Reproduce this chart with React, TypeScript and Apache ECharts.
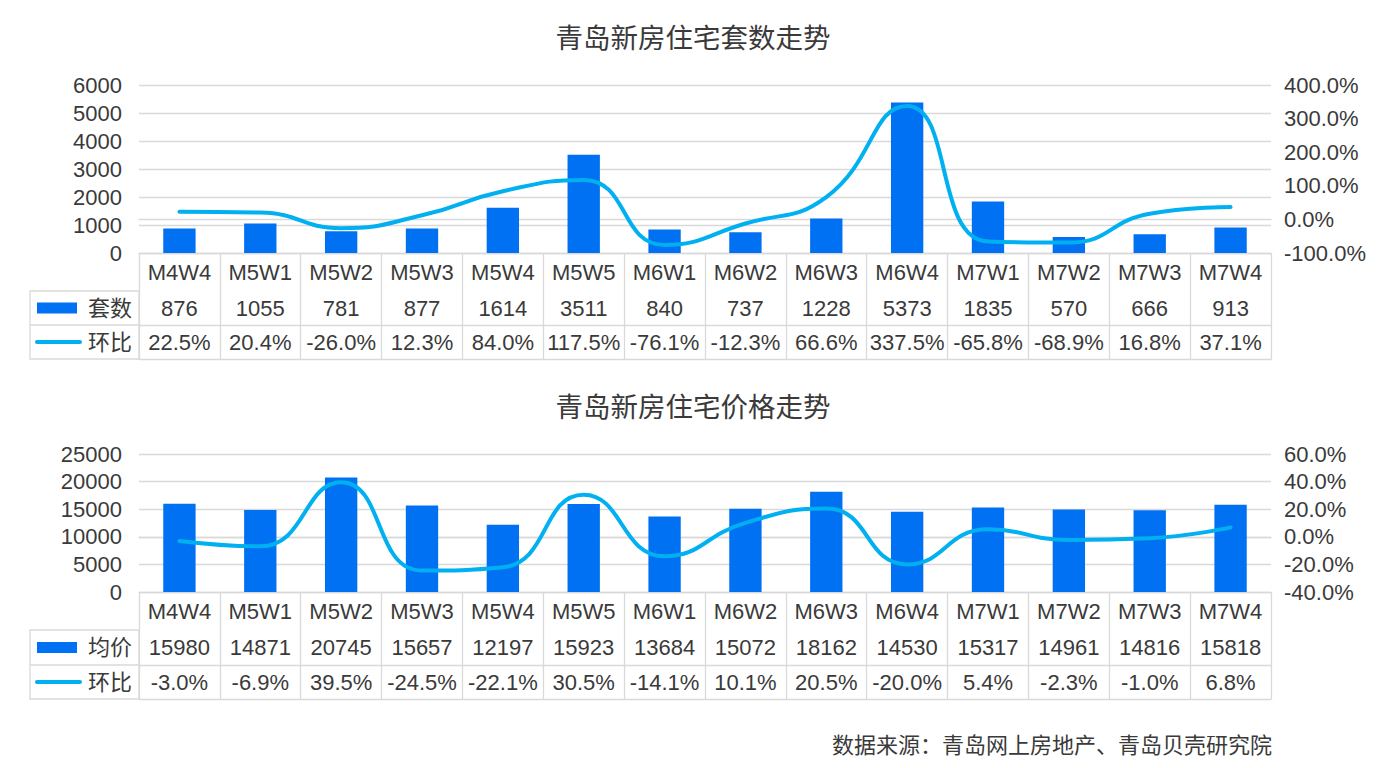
import React, { useEffect, useRef } from "react";
import * as echarts from "echarts";

const categories = ["M4W4", "M5W1", "M5W2", "M5W3", "M5W4", "M5W5", "M6W1", "M6W2", "M6W3", "M6W4", "M7W1", "M7W2", "M7W3", "M7W4"];
const counts = [876, 1055, 781, 877, 1614, 3511, 840, 737, 1228, 5373, 1835, 570, 666, 913];
const countMoM = [22.5, 20.4, -26.0, 12.3, 84.0, 117.5, -76.1, -12.3, 66.6, 337.5, -65.8, -68.9, 16.8, 37.1];
const prices = [15980, 14871, 20745, 15657, 12197, 15923, 13684, 15072, 18162, 14530, 15317, 14961, 14816, 15818];
const priceMoM = [-3.0, -6.9, 39.5, -24.5, -22.1, 30.5, -14.1, 10.1, 20.5, -20.0, 5.4, -2.3, -1.0, 6.8];

const title1 = "青岛新房住宅套数走势";
const title2 = "青岛新房住宅价格走势";
const barName1 = "套数";
const barName2 = "均价";
const lineName = "环比";
const sourceText = "数据来源：青岛网上房地产、青岛贝壳研究院";

const FONT = "'Liberation Sans', 'Noto Sans CJK SC', sans-serif";
const TEXT = "#3a3a3a";
const GRIDC = "#d9d9d9";
const BAR = "#0071F2";
const LINE = "#00B0F0";
const FS = 22;

const pct = (v: number) => v.toFixed(1) + "%";

export default function App() {
  const ref = useRef<HTMLDivElement>(null);
  useEffect(() => {
    if (!ref.current) return;
    const chart = echarts.init(ref.current, null, { renderer: "svg" });

    const gridLeft = 139;
    const gridRight = 1398 - 1271;
    const blocks = [
      { top: 85, height: 168, rows: [38, 34, 34], yMax: 6000, yInt: 1000, rMin: -100, rMax: 400, rInt: 100, vals: counts, mom: countMoM, name: barName1 },
      { top: 454, height: 138, rows: [38, 35, 34], yMax: 25000, yInt: 5000, rMin: -40, rMax: 60, rInt: 20, vals: prices, mom: priceMoM, name: barName2 },
    ];

    const grids: any[] = [];
    const xAxes: any[] = [];
    const yAxes: any[] = [];
    const series: any[] = [];
    const graphics: any[] = [];

    const labelBase = { fontSize: FS, color: TEXT, fontFamily: FONT };

    blocks.forEach((b, g) => {
      grids.push({ left: gridLeft, right: gridRight, top: b.top, height: b.height, containLabel: false });
      const tableH = b.rows[0] + b.rows[1] + b.rows[2];
      const xBase = xAxes.length;
      // category row
      xAxes.push({
        type: "category", gridIndex: g, data: categories, position: "bottom",
        axisLine: { show: true, lineStyle: { color: GRIDC, width: 1.3 } },
        axisTick: { show: true, length: tableH, lineStyle: { color: GRIDC, width: 1.3 } },
        axisLabel: { ...labelBase, interval: 0, margin: b.rows[0] / 2, verticalAlign: "middle" },
      });
      // value row
      xAxes.push({
        type: "category", gridIndex: g, data: categories, position: "bottom", offset: b.rows[0],
        axisLine: { show: true, lineStyle: { color: GRIDC, width: 1.3 } },
        axisTick: { show: false },
        axisLabel: { ...labelBase, interval: 0, margin: b.rows[1] / 2, verticalAlign: "middle", formatter: (_v: string, i: number) => String(b.vals[i]) },
      });
      // mom row
      xAxes.push({
        type: "category", gridIndex: g, data: categories, position: "bottom", offset: b.rows[0] + b.rows[1],
        axisLine: { show: true, lineStyle: { color: GRIDC, width: 1.3 } },
        axisTick: { show: false },
        axisLabel: { ...labelBase, interval: 0, margin: b.rows[2] / 2, verticalAlign: "middle", formatter: (_v: string, i: number) => pct(b.mom[i]) },
      });
      // bottom border
      xAxes.push({
        type: "category", gridIndex: g, data: categories, position: "bottom", offset: tableH,
        axisLine: { show: true, lineStyle: { color: GRIDC, width: 1.3 } },
        axisTick: { show: false }, axisLabel: { show: false },
      });

      const yBase = yAxes.length;
      yAxes.push({
        type: "value", gridIndex: g, position: "left", min: 0, max: b.yMax, interval: b.yInt,
        axisLine: { show: false }, axisTick: { show: false },
        axisLabel: { ...labelBase, margin: 17, formatter: (v: number) => String(v) },
        splitLine: { show: true, lineStyle: { color: GRIDC, width: 1.3 } },
      });
      yAxes.push({
        type: "value", gridIndex: g, position: "right", min: b.rMin, max: b.rMax, interval: b.rInt,
        axisLine: { show: false }, axisTick: { show: false },
        axisLabel: { ...labelBase, margin: 13, formatter: (v: number) => pct(v) },
        splitLine: { show: false },
      });

      series.push({
        type: "bar", name: b.name, xAxisIndex: xBase, yAxisIndex: yBase, data: b.vals,
        barWidth: "40%", itemStyle: { color: BAR }, z: 2,
      });
      series.push({
        type: "line", name: lineName, xAxisIndex: xBase, yAxisIndex: yBase + 1, data: b.mom,
        smooth: true, symbol: "none", lineStyle: { color: LINE, width: 4, cap: "round" }, z: 3,
      });

      const bottom = b.top + b.height;
      const r1 = bottom + b.rows[0];
      const r2 = r1 + b.rows[1];
      const r3 = r2 + b.rows[2];
      graphics.push({ type: "rect", shape: { x: 30, y: r1, width: gridLeft - 30, height: r3 - r1 }, style: { fill: "none", stroke: GRIDC, lineWidth: 1.3 } });
      graphics.push({ type: "line", shape: { x1: 30, y1: r2, x2: gridLeft, y2: r2 }, style: { stroke: GRIDC, lineWidth: 1.3 } });
      const c1 = (r1 + r2) / 2;
      const c2 = (r2 + r3) / 2;
      graphics.push({ type: "rect", shape: { x: 37, y: c1 - 5.5, width: 40, height: 11 }, style: { fill: BAR } });
      graphics.push({ type: "line", shape: { x1: 37, y1: c2, x2: 80, y2: c2 }, style: { stroke: LINE, lineWidth: 4, lineCap: "round" } });
      graphics.push({ type: "text", x: 88, y: c1, style: { text: b.name, fontSize: FS, fill: TEXT, fontFamily: FONT, textVerticalAlign: "middle", verticalAlign: "middle" } });
      graphics.push({ type: "text", x: 88, y: c2, style: { text: lineName, fontSize: FS, fill: TEXT, fontFamily: FONT, textVerticalAlign: "middle", verticalAlign: "middle" } });
    });

    graphics.push({ type: "text", x: 1272, y: 745, style: { text: sourceText, fontSize: 22, fill: TEXT, fontFamily: FONT, align: "right", verticalAlign: "middle" } });

    chart.setOption({
      animation: false,
      backgroundColor: "#ffffff",
      title: [
        { text: title1, left: 688, top: 20, textAlign: "center", textStyle: { fontSize: 27.5, fontWeight: "normal", color: TEXT, fontFamily: FONT } },
        { text: title2, left: 688, top: 389, textAlign: "center", textStyle: { fontSize: 27.5, fontWeight: "normal", color: TEXT, fontFamily: FONT } },
      ],
      grid: grids,
      xAxis: xAxes,
      yAxis: yAxes,
      series,
      graphic: graphics,
    });
    return () => chart.dispose();
  }, []);
  return <div ref={ref} style={{ position: "fixed", left: 0, top: 0, width: 1398, height: 768 }} />;
}
